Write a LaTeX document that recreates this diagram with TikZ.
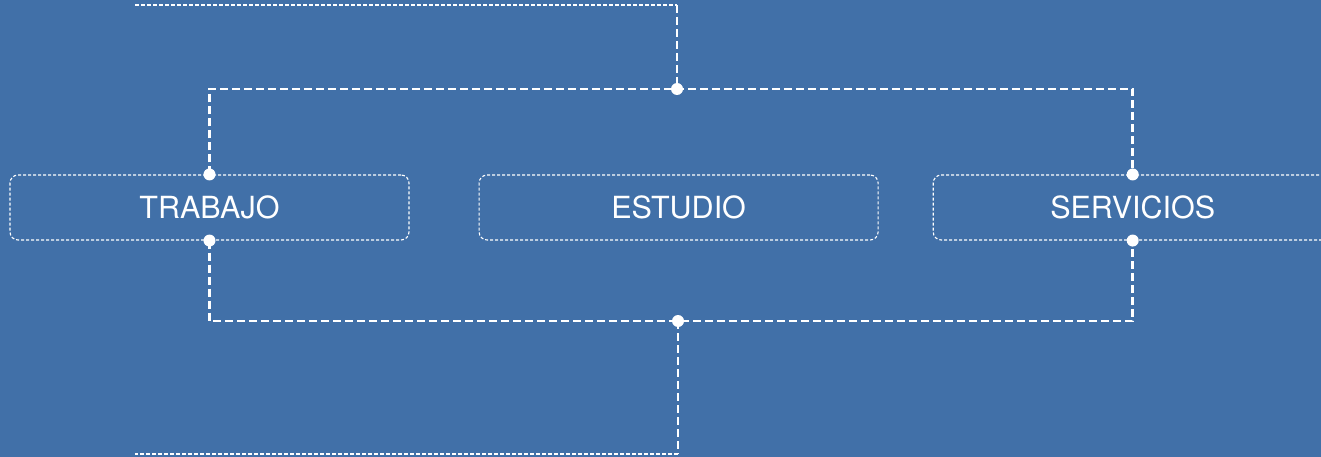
\documentclass[tikz,border=0pt]{standalone}
\usepackage{fontspec}
\setmainfont{TeX Gyre Heros}
\usepackage{tikz}
\usetikzlibrary{positioning}
\definecolor{bgblue}{RGB}{65,112,168}
\tikzstyle{box}=[draw=white,line width=1.1pt,dash pattern=on 3pt off 2pt,rounded corners=8pt,minimum width=399pt,minimum height=65pt,inner sep=0pt,text=white,font=\fontsize{30.5}{36}\selectfont]
\tikzstyle{link}=[draw,white,line width=2.6pt,dash pattern=on 8pt off 4pt]
\tikzstyle{thin link}=[draw,white,line width=1.1pt,dash pattern=on 4pt off 2pt]
\tikzstyle{dot}=[circle,fill=white,minimum size=12pt,inner sep=0pt]

\begin{document}
\begin{tikzpicture}[x=1pt,y=-1pt]
    \fill[bgblue] (0,0) rectangle (1321,457);
    \useasboundingbox (0,0) rectangle (1321,457);
    \clip (0,0) rectangle (1321,457);
    % boxes
    \node[box] (trabajo) at (209.5,207.5) {TRABAJO};
    \node[box, right=69pt of trabajo] (estudio) {ESTUDIO};
    \node[box, right=54pt of estudio] (servicios) {SERVICIOS};
    % hubs and free ends
    \coordinate (hubtop) at (677,89);
    \coordinate (hubbot) at (678,321);
    \coordinate (intop) at (135,5);
    \coordinate (outbot) at (135,454);
    % connectors
    \path[thin link] (intop) -- (intop -| hubtop);
    \path[link] (intop -| hubtop) -- (hubtop);
    \path[link] (trabajo.north) -- (trabajo.north |- hubtop) -- (servicios.north |- hubtop) -- (servicios.north);
    \path[link] (trabajo.south) -- (trabajo.south |- hubbot) -- (servicios.south |- hubbot) -- (servicios.south);
    \path[link] (hubbot) -- (hubbot |- outbot);
    \path[thin link] (hubbot |- outbot) -- (outbot);
    % dots
    \foreach \pos in {trabajo.north, trabajo.south, servicios.north, servicios.south, hubtop, hubbot}
        \node[dot] at (\pos) {};
\end{tikzpicture}
\end{document}
